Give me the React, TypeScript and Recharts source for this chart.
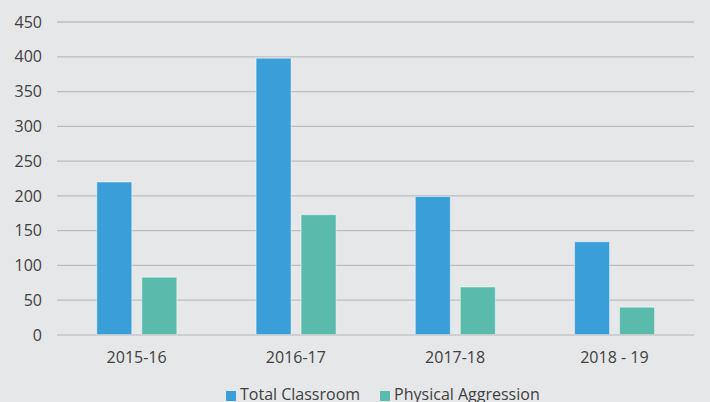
import React from 'react';
import { BarChart, Bar, XAxis, YAxis, CartesianGrid, Legend } from 'recharts';

const categories = ['2015-16', '2016-17', '2017-18', '2018 - 19'];
const totalClassroom = [220, 398, 199, 134];
const physicalAggression = [83, 173, 69, 40];
const yTicks = [0, 50, 100, 150, 200, 250, 300, 350, 400, 450];
const seriesNames = ['Total Classroom', 'Physical Aggression'];

const data = categories.map((c, i) => ({
  year: c,
  total: totalClassroom[i],
  physical: physicalAggression[i],
}));

const font = "'Open Sans', sans-serif";

export default function App() {
  return (
    <div style={{ position: 'absolute', left: 0, top: 0, width: 710, height: 402, background: '#e6e7e9', overflow: 'hidden', fontFamily: font }}>
      <BarChart
        width={710}
        height={402}
        data={data}
        margin={{ top: 22, right: 16, left: 0, bottom: 15 }}
        barCategoryGap="25%"
        barGap={10}
      >
        <CartesianGrid vertical={false} stroke="#bcbdbf" strokeWidth={1.3} />
        <XAxis
          dataKey="year"
          axisLine={{ stroke: '#d0d1d3', strokeWidth: 1.5 }}
          tickLine={false}
          tickSize={0}
          tickMargin={17}
          tick={{ fill: '#404040', fontSize: 16, fontFamily: font }}
        />
        <YAxis
          width={57}
          domain={[0, 450]}
          ticks={yTicks}
          axisLine={false}
          tickLine={false}
          tickSize={0}
          tickMargin={15}
          tick={{ fill: '#404040', fontSize: 16, fontFamily: font }}
        />
        <Legend
          iconType="square"
          iconSize={10}
          itemSorter={(item: any) => seriesNames.indexOf(item.value)}
          wrapperStyle={{ left: 226, top: 383, width: 'auto', fontFamily: font, fontSize: 16 }}
          formatter={(value: string) => (
            <span style={{ color: '#404040', paddingRight: 10 }}>{value}</span>
          )}
        />
        <Bar dataKey="total" name={seriesNames[0]} fill="#3a9fd9" stroke="rgba(255,255,255,0.45)" strokeWidth={1} isAnimationActive={false} />
        <Bar dataKey="physical" name={seriesNames[1]} fill="#5abbad" stroke="rgba(255,255,255,0.45)" strokeWidth={1} isAnimationActive={false} />
      </BarChart>
    </div>
  );
}
